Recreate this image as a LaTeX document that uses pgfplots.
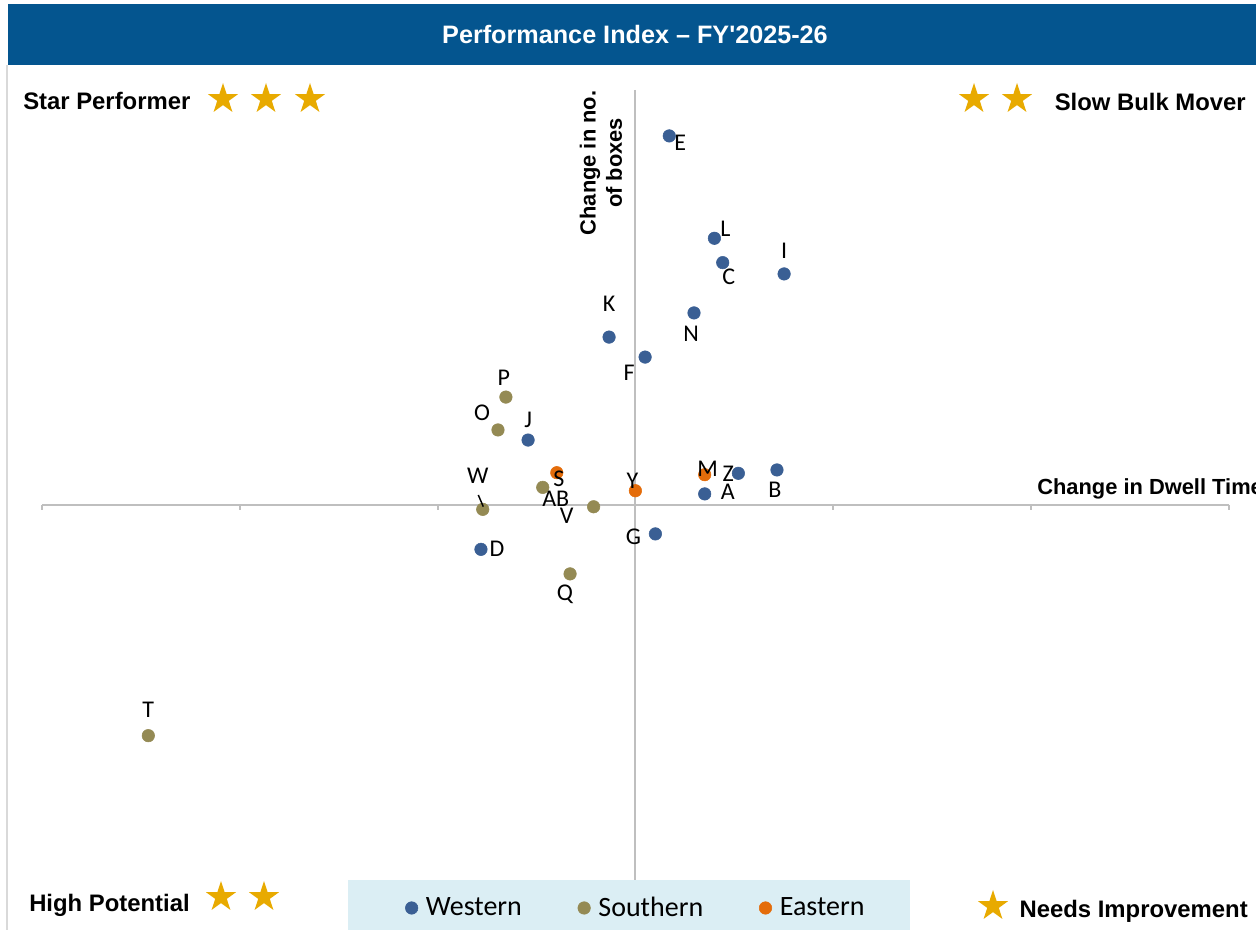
\documentclass[border=0pt]{standalone}
\usepackage{pgfplots}
\pgfplotsset{compat=1.18}
\usepackage{fontspec}
\setmainfont{Liberation Sans}
\newfontfamily\carl{Carlito}
\usetikzlibrary{shapes.geometric}
\definecolor{wcol}{RGB}{58,95,148}
\definecolor{scol}{RGB}{148,138,84}
\definecolor{ecol}{RGB}{228,108,10}
\definecolor{banner}{RGB}{4,85,143}
\definecolor{axgray}{RGB}{191,191,191}
\definecolor{framegray}{RGB}{217,217,217}
\definecolor{legbg}{RGB}{219,238,244}
\definecolor{stargold}{RGB}{232,170,0}

\pgfplotstableread{
x y lab dx dy
0.173 1.864 E 11 7
0.401 1.347 L 11 -9
0.443 1.224 C 6 14
0.753 1.167 I 0 -23
0.298 0.970 N -3 21
-0.131 0.848 K 0 -33
0.051 0.747 F -16 16
-0.540 0.328 J 0 -20
0.522 0.160 Z -10 0
0.717 0.177 B -2 20
0.352 0.056 A 23 -2
0.103 -0.146 G -22 3
-0.778 -0.224 D 16 -1
}\western
\pgfplotstableread{
x y lab dx dy
-0.652 0.545 P -2 -19
-0.692 0.379 O -16 -17
-0.466 0.089 AB 13 11
-0.209 -0.009 V -27 9
-0.769 -0.022 W -5 -34
-0.328 -0.348 Q -5 20
-2.458 -1.165 T 0 -26
}\southern
\pgfplotstableread{
x y lab dx dy
-0.395 0.163 S 2 6
0.002 0.072 Y -3 -10
0.352 0.153 M 3 -6
}\eastern

\tikzset{px/.style={x=0.75pt,y=-0.75pt,yshift=697.5pt},
  strs/.style={star, star points=5, star point ratio=2.618, minimum size=24pt, inner sep=0pt, fill=stargold, draw=none},
  qlab/.style={font=\bfseries\fontsize{17.9}{21}\selectfont, inner sep=0pt}}
\pgfplotsset{lbl/.style={only marks, mark=*, mark size=4.7pt,
  point meta=explicit symbolic, nodes near coords,
  visualization depends on={\thisrow{dx}\as\dx},
  visualization depends on={\thisrow{dy}\as\dy},
  nodes near coords style={font=\carl\fontsize{18}{21}\selectfont, text=black, anchor=center, inner sep=0pt,
    xshift={(\dx)*0.75pt}, yshift={-(\dy)*0.75pt}}}}

\begin{document}
\begin{tikzpicture}
\useasboundingbox (0,0) rectangle (942pt,697.5pt);
\begin{scope}[px]
\fill[banner] (8,4) rectangle (1256,65);
\node[text=white, font=\bfseries\fontsize{18.9}{22}\selectfont] at (635,35) {Performance Index – FY\textquotesingle2025-26};
\draw[framegray, line width=1.2pt] (7,65) -- (7,930);
\fill[legbg] (348,880) rectangle (910,930);
\draw[axgray, line width=1.5pt] (42,505) -- (1229,505);
\foreach \t in {42,240,438,635,833,1031,1229} \draw[axgray,line width=1.2pt] (\t,505) -- (\t,510);
\draw[axgray, line width=1.2pt] (635,90) -- (635,880);
\end{scope}
\begin{axis}[at={(0,0)}, anchor=south west, scale only axis, width=942pt, height=697.5pt,
  xmin=-3.20707, xmax=3.13636, ymin=-2.14646, ymax=2.55051, hide axis, clip=false,
  legend style={at={(0.5066,0.02366)}, anchor=center, draw=none, fill=none, legend columns=3,
    font=\carl\fontsize{21}{24}\selectfont, inner sep=0pt,
    /tikz/every odd column/.append style={column sep=4pt},
    /tikz/every even column/.append style={column sep=40pt}},
  legend image code/.code={\draw[#1] plot coordinates {(0pt,0pt)};}]
\addplot[lbl, color=wcol] table[x=x, y=y, meta=lab] {\western};
\addlegendentry{Western}
\addplot[lbl, color=scol] table[x=x, y=y, meta=lab] {\southern};
\addlegendentry{Southern}
\addplot[lbl, color=ecol] table[x=x, y=y, meta=lab] {\eastern};
\addlegendentry{Eastern}
\end{axis}
\begin{scope}[px]
\node[qlab, anchor=base west] at (23,110) {Star Performer};
\node[strs] at (223,99) {};
\node[strs] at (266,99) {};
\node[strs] at (310,99) {};
\node[qlab, anchor=base east] at (1246,111) {Slow Bulk Mover};
\node[strs] at (974,99) {};
\node[strs] at (1017,99) {};
\node[qlab, anchor=base west] at (29,912) {High Potential};
\node[strs] at (221,897) {};
\node[strs] at (264,897) {};
\node[qlab, anchor=base east] at (1248,918) {Needs Improvement};
\node[strs] at (993,906) {};
\node[font=\bfseries\fontsize{16.4}{19.7}\selectfont, inner sep=0pt, anchor=base west] at (1037,495) {Change in Dwell Time};
\node[font=\bfseries\fontsize{16.4}{19.7}\selectfont, inner sep=0pt, rotate=90, align=center] at (601,163) {Change in no.\\of boxes};
\draw[black, line width=1.1pt] (478.3,495) -- (483.3,506.7);
\end{scope}
\end{tikzpicture}
\end{document}
